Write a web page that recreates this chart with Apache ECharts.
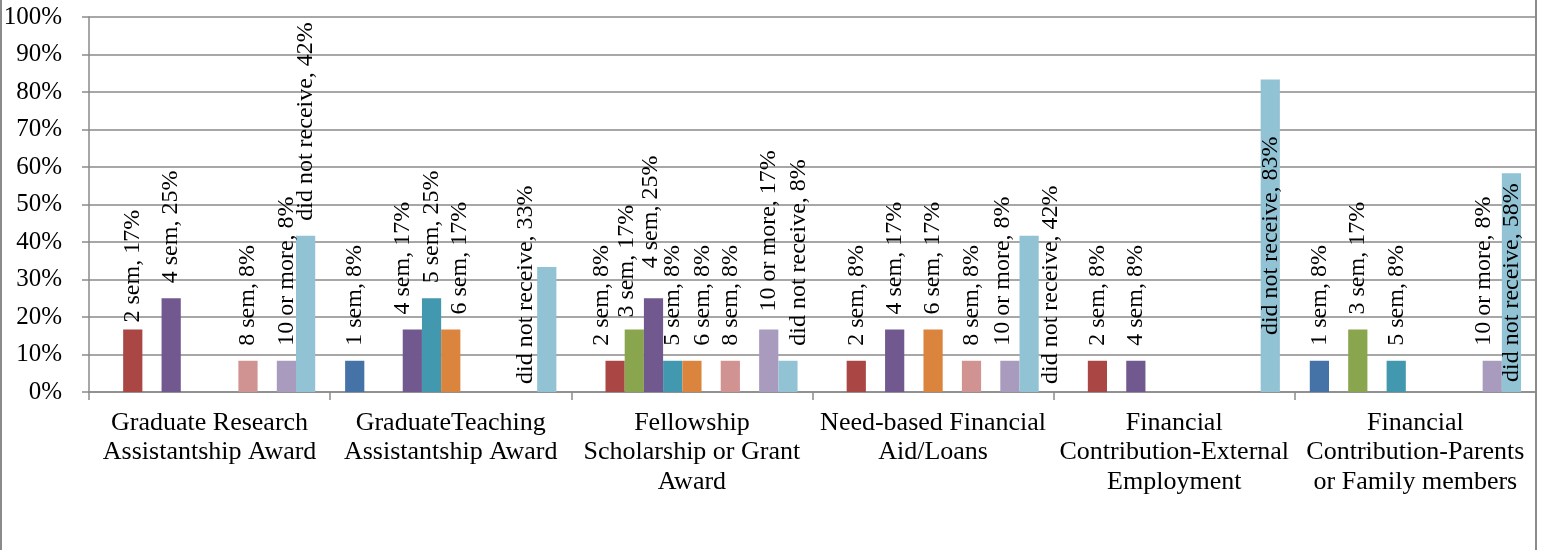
<!DOCTYPE html>
<html>
<head>
<meta charset="utf-8">
<script src="https://cdn.jsdelivr.net/npm/echarts@6/dist/echarts.min.js"></script>
<style>
html,body{margin:0;padding:0;background:#fff;}
#chart{width:1543px;height:550px;}
</style>
</head>
<body>
<div id="chart"></div>
<script>
// ---------- data ----------
const categories = [
  'Graduate Research\nAssistantship Award',
  'GraduateTeaching\nAssistantship Award',
  'Fellowship\nScholarship or Grant\nAward',
  'Need-based Financial\nAid/Loans',
  'Financial\nContribution-External\nEmployment',
  'Financial\nContribution-Parents\nor Family members'
];
const seriesNames = ['1 sem','2 sem','3 sem','4 sem','5 sem','6 sem','7 sem','8 sem','9 sem','10 or more','did not receive'];
const sem1          = [null, 8.33, null, null, null, 8.33];
const sem2          = [16.67, null, 8.33, 8.33, 8.33, null];
const sem3          = [null, null, 16.67, null, null, 16.67];
const sem4          = [25, 16.67, 25, 16.67, 8.33, null];
const sem5          = [null, 25, 8.33, null, null, 8.33];
const sem6          = [null, 16.67, 8.33, 16.67, null, null];
const sem7          = [null, null, null, null, null, null];
const sem8          = [8.33, null, 8.33, 8.33, null, null];
const sem9          = [null, null, null, null, null, null];
const sem10plus     = [8.33, null, 16.67, 8.33, null, 8.33];
const didNotReceive = [41.67, 33.33, 8.33, 41.67, 83.33, 58.33];
const seriesValues = [sem1, sem2, sem3, sem4, sem5, sem6, sem7, sem8, sem9, sem10plus, didNotReceive];
const yTicks = [0,10,20,30,40,50,60,70,80,90,100];

// ---------- styling ----------
const colors = ['#4572A7','#AA4643','#89A54E','#71588F','#4198AF','#DB843D','#93A9CF','#D19392','#B9CD96','#A99BBD','#91C3D5'];
const FONT = '"Liberation Serif", "Times New Roman", serif';
const GRID_COLOR = '#8a8a8a';

// label placement tweaks (screen px): key = seriesIndex|categoryIndex
const labelNudges = {
  '1|0': {dy: 8},
  '3|1': {dx: -10},
  '5|1': {dx: 9},
  '10|1': {mode: 'bottom', dx: -21},
  '1|2': {dx: -13},
  '2|2': {dx: -8, dy: 3},
  '3|2': {dx: -3, dy: -15},
  '5|2': {dx: 11},
  '9|2': {dy: -3},
  '10|2': {dx: 11},
  '9|3': {dx: -7},
  '10|3': {mode: 'bottom', dx: 22},
  '10|4': {mode: 'inside'},
  '9|5': {dx: -9},
  '10|5': {mode: 'inside'}
};

function labelFor(si, ci) {
  const n = labelNudges[si + '|' + ci];
  if (!n) return null;
  const dx = n.dx || 0, dy = n.dy || 0;
  if (n.mode === 'inside') {
    return {position: 'inside', align: 'center', verticalAlign: 'middle', offset: [-dy, dx]};
  }
  if (n.mode === 'bottom') {
    return {position: 'insideBottom', distance: 8, align: 'left', verticalAlign: 'middle', offset: [-dy, dx]};
  }
  return {offset: [-dy, dx]};
}

const series = seriesNames.map((name, si) => ({
  name: name,
  type: 'bar',
  barGap: '0%',
  barCategoryGap: '12.4%',
  itemStyle: {color: colors[si]},
  label: {
    show: true,
    position: 'top',
    distance: 15,
    rotate: 90,
    align: 'left',
    verticalAlign: 'middle',
    fontFamily: FONT,
    fontSize: 24,
    color: '#000',
    formatter: p => p.seriesName + ', ' + Math.round(p.value) + '%'
  },
  data: seriesValues[si].map((v, ci) => {
    if (v == null) return '-';
    const l = labelFor(si, ci);
    return l ? {value: v, label: l} : v;
  })
}));

const chart = echarts.init(document.getElementById('chart'), null, {renderer: 'canvas'});
chart.setOption({
  animation: false,
  color: colors,
  grid: {left: 89, right: 7, top: 17, bottom: 158, containLabel: false},
  xAxis: {
    type: 'category',
    data: categories,
    axisLine: {lineStyle: {color: GRID_COLOR, width: 1.5}},
    axisTick: {show: true, length: 8, lineStyle: {color: GRID_COLOR, width: 1.5}},
    axisLabel: {interval: 0, margin: 16, fontFamily: FONT, fontSize: 26, lineHeight: 29.5, color: '#000', align: 'center'}
  },
  yAxis: {
    type: 'value',
    min: yTicks[0],
    max: yTicks[yTicks.length - 1],
    interval: yTicks[1] - yTicks[0],
    axisLine: {show: true, lineStyle: {color: GRID_COLOR, width: 1.5}},
    axisTick: {show: true, length: 7, lineStyle: {color: GRID_COLOR, width: 1.5}},
    splitLine: {show: true, lineStyle: {color: GRID_COLOR, width: 1.5}},
    axisLabel: {margin: 27, fontFamily: FONT, fontSize: 25, color: '#000', formatter: '{value}%'}
  },
  graphic: [
    {type: 'line', shape: {x1: 1, y1: 0, x2: 1, y2: 550}, style: {stroke: GRID_COLOR, lineWidth: 2}},
    {type: 'line', shape: {x1: 1536, y1: 0, x2: 1536, y2: 550}, style: {stroke: GRID_COLOR, lineWidth: 2}}
  ],
  series: series
});
</script>
</body>
</html>
